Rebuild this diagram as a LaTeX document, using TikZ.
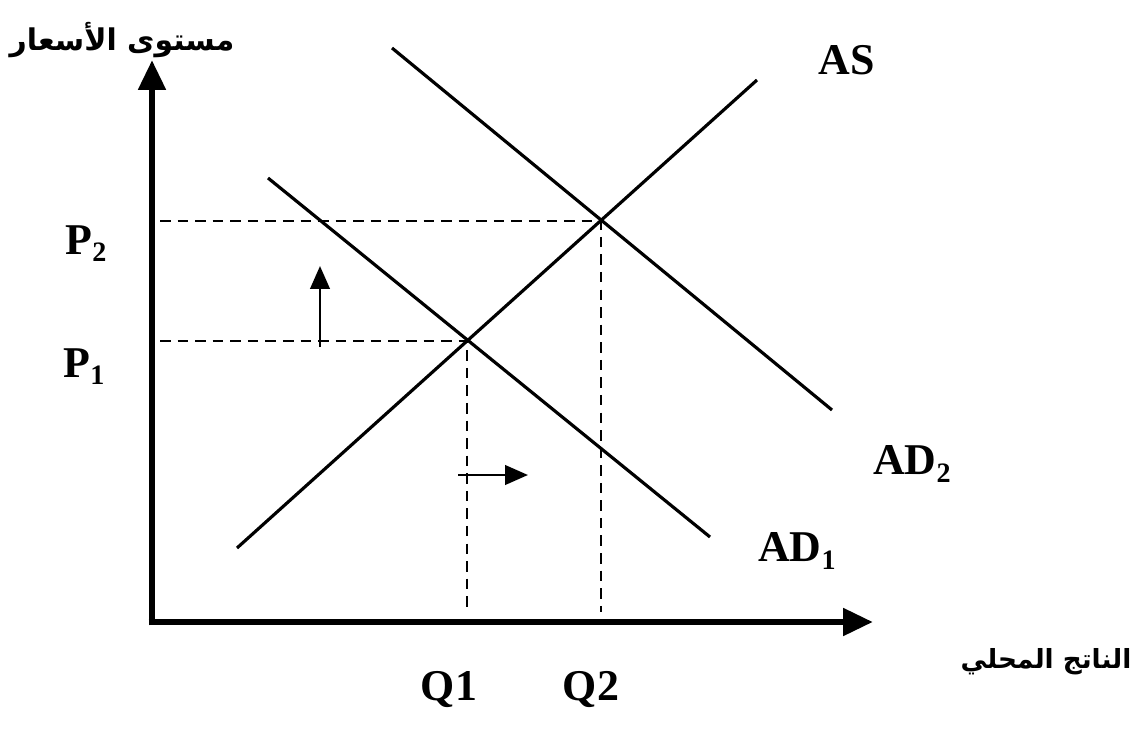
\documentclass[tikz,border=0pt]{standalone}
\usepackage{fontspec}
\setmainfont{Liberation Serif}
\newfontfamily\arabicfont[Script=Arabic]{DejaVu Sans}
\TeXXeTstate=1
\usetikzlibrary{positioning,arrows.meta}
\newcommand{\lowsub}[1]{\raisebox{-0.35ex}{\fontsize{16}{16}\selectfont #1}}
\tikzset{
  axis/.style={line width=3.8pt, -{Triangle[length=17pt, width=15pt]}},
  curve/.style={line width=1.8pt},
  guide/.style={line width=0.9pt, dash pattern=on 6pt off 4pt},
  shiftarr/.style={line width=1.6pt, -{Triangle[length=13pt, width=11pt]}},
  lbl/.style={font=\fontsize{25}{28}\selectfont\bfseries, inner sep=0pt},
  arlbl/.style={font=\fontsize{15}{18}\selectfont\arabicfont\bfseries, inner sep=0pt},
}

\begin{document}
\begin{tikzpicture}[x=0.02cm, y=-0.02cm]
  \useasboundingbox (0,0) rectangle (1142,743);
  % axes
  \coordinate (o) at (152,622);
  \coordinate (ytop) at (152,60);
  \coordinate (xend) at (873,622);
  \draw[axis] ([yshift=-1.9pt]o) -- (ytop);
  \draw[axis] ([xshift=-1.9pt]o) -- (xend);
  % curves
  \coordinate (as1) at (237,548);
  \coordinate (as2) at (757,80);
  \coordinate (ad1a) at (268,178);
  \coordinate (ad1b) at (710,537);
  \coordinate (ad2a) at (392,48);
  \coordinate (ad2b) at (832,410);
  \draw[curve] (as1) -- (as2);
  \draw[curve] (ad1a) -- (ad1b);
  \draw[curve] (ad2a) -- (ad2b);
  % equilibria
  \coordinate (e1) at (467,341);
  \coordinate (e2) at (601,221);
  \coordinate (p1) at (160,341);
  \coordinate (p2) at (160,221);
  \coordinate (q1) at (467,612);
  \coordinate (q2) at (601,612);
  \draw[guide] (p1) -- (e1) -- (q1);
  \draw[guide] (p2) -- (e2) -- (q2);
  % shifts
  \coordinate (up0) at (320,347);
  \coordinate (up1) at (320,266);
  \coordinate (rt0) at (458,475);
  \coordinate (rt1) at (528,475);
  \draw[shiftarr] (up0) -- (up1);
  \draw[shiftarr] (rt0) -- (rt1);
  % labels
  \node[lbl] (lp2) at (86,244) {P\lowsub{2}};
  \node[lbl] (lp1) at (84,367) {P\lowsub{1}};
  \node[lbl] (lq1) at (449,690) {Q1};
  \node[lbl] (lq2) at (591,690) {Q2};
  \node[lbl] (las) at (847,60) {AS};
  \node[lbl] (lad2) at (912,464) {AD\lowsub{2}};
  \node[lbl] (lad1) at (797,551) {AD\lowsub{1}};
  \node[arlbl, font=\fontsize{17}{20}\selectfont\arabicfont\bfseries] (lprice) at (122,40) {\beginR مستوى الأسعار\endR};
  \node[arlbl] (loutput) at (1046,662) {\beginR الناتج المحلي\endR};
\end{tikzpicture}
\end{document}
